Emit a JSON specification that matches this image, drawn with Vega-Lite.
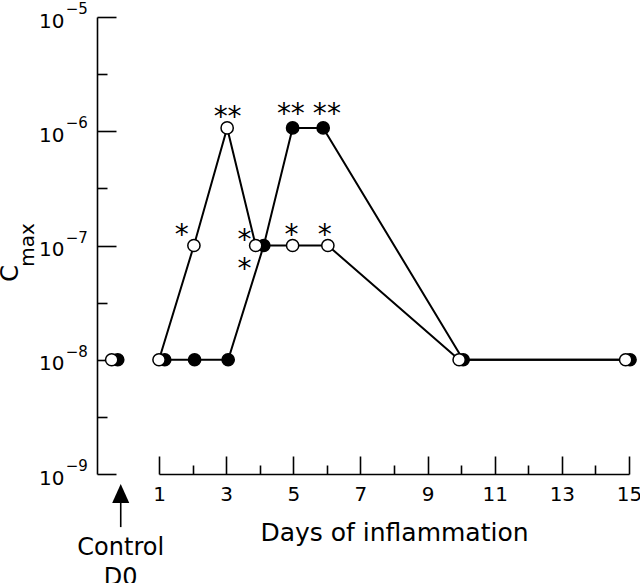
{
  "$schema": "https://vega.github.io/schema/vega-lite/v6.json",
  "width": 470,
  "height": 457,
  "autosize": {"type": "none"},
  "padding": {"left": 159, "top": 17, "right": 11, "bottom": 109},
  "config": {
    "view": {"stroke": null},
    "font": "DejaVu Sans",
    "axis": {
      "domainColor": "black", "tickColor": "black", "labelColor": "black", "titleColor": "black",
      "domainWidth": 1.6, "tickWidth": 1.6, "grid": false,
      "labelFont": "DejaVu Sans", "titleFont": "DejaVu Sans"
    }
  },
  "datasets": {
    "main": [
      {"group": "filled", "stage": "control", "day": -0.23, "cmax": 1e-8},
      {"group": "open", "stage": "control", "day": -0.41, "cmax": 1e-8},
      {"group": "filled", "stage": "inflamed", "day": 1.17, "cmax": 1e-8},
      {"group": "filled", "stage": "inflamed", "day": 2.06, "cmax": 1e-8},
      {"group": "filled", "stage": "inflamed", "day": 3.06, "cmax": 1e-8},
      {"group": "filled", "stage": "inflamed", "day": 4.12, "cmax": 1e-7},
      {"group": "filled", "stage": "inflamed", "day": 4.98, "cmax": 1.07e-6},
      {"group": "filled", "stage": "inflamed", "day": 5.89, "cmax": 1.07e-6},
      {"group": "filled", "stage": "inflamed", "day": 10.06, "cmax": 1e-8},
      {"group": "filled", "stage": "inflamed", "day": 15.03, "cmax": 1e-8},
      {"group": "open", "stage": "inflamed", "day": 1.0, "cmax": 1e-8},
      {"group": "open", "stage": "inflamed", "day": 2.04, "cmax": 1e-7},
      {"group": "open", "stage": "inflamed", "day": 3.03, "cmax": 1.07e-6},
      {"group": "open", "stage": "inflamed", "day": 3.88, "cmax": 1e-7},
      {"group": "open", "stage": "inflamed", "day": 4.98, "cmax": 1e-7},
      {"group": "open", "stage": "inflamed", "day": 6.03, "cmax": 1e-7},
      {"group": "open", "stage": "inflamed", "day": 9.94, "cmax": 1e-8},
      {"group": "open", "stage": "inflamed", "day": 14.9, "cmax": 1e-8}
    ],
    "stars": [
      {"day": 1.68, "cmax": 1.41e-7, "label": "*"},
      {"day": 2.84, "cmax": 1.53e-6, "label": "*"},
      {"day": 3.25, "cmax": 1.53e-6, "label": "*"},
      {"day": 3.55, "cmax": 1.29e-7, "label": "*"},
      {"day": 3.55, "cmax": 7.2e-8, "label": "*"},
      {"day": 4.72, "cmax": 1.63e-6, "label": "*"},
      {"day": 5.13, "cmax": 1.63e-6, "label": "*"},
      {"day": 5.79, "cmax": 1.63e-6, "label": "*"},
      {"day": 6.21, "cmax": 1.63e-6, "label": "*"},
      {"day": 4.95, "cmax": 1.41e-7, "label": "*"},
      {"day": 5.94, "cmax": 1.41e-7, "label": "*"}
    ],
    "exponents": [
      {"day": -1.78, "cmax": 1e-5, "label": "−5"},
      {"day": -1.78, "cmax": 1e-6, "label": "−6"},
      {"day": -1.78, "cmax": 1e-7, "label": "−7"},
      {"day": -1.78, "cmax": 1e-8, "label": "−8"},
      {"day": -1.78, "cmax": 1e-9, "label": "−9"}
    ],
    "notes": [
      {"day": -0.14, "cmax": 1.954e-10, "label": "Control"},
      {"day": -0.14, "cmax": 1.066e-10, "label": "D0"}
    ],
    "arrow": [
      {"day": -0.14, "cmax": 6.75e-10, "cmax_end": 3.43e-10}
    ],
    "ytitle": [
      {"day": -3.4, "cmax": 5.69e-8, "label": "C"}
    ],
    "ysub": [
      {"day": -2.9, "cmax": 1.01e-7, "label": "max"}
    ]
  },
  "encoding": {
    "x": {
      "field": "day", "type": "quantitative",
      "scale": {"domain": [1, 15], "nice": false, "zero": false},
      "axis": {
        "values": [1, 2, 3, 4, 5, 6, 7, 8, 9, 10, 11, 12, 13, 14, 15],
        "tickSize": {"condition": {"test": "datum.value % 2 == 1", "value": -18}, "value": -9},
        "labelExpr": "datum.value % 2 == 1 ? datum.label : ''",
        "labelPadding": 28, "labelFontSize": 20, "labelOverlap": false, "labelFlush": false,
        "title": "Days of inflammation", "titleFontSize": 25, "titleFontWeight": "normal", "titlePadding": 7
      }
    },
    "y": {
      "field": "cmax", "type": "quantitative",
      "scale": {"type": "log", "domain": [1e-9, 1e-5], "nice": false},
      "axis": {
        "offset": 62,
        "values": [1e-9, 3.16228e-9, 1e-8, 3.16228e-8, 1e-7, 3.16228e-7, 1e-6, 3.16228e-6, 1e-5],
        "tickSize": {"condition": {"test": "abs(log(datum.value)/LN10 - round(log(datum.value)/LN10)) < 0.01", "value": -19}, "value": -10},
        "labelExpr": "abs(log(datum.value)/LN10 - round(log(datum.value)/LN10)) < 0.01 ? '10' : ''",
        "labelPadding": 52, "labelFontSize": 20, "labelOverlap": false, "labelFlush": false, "labelOffset": 4,
        "title": null
      }
    }
  },
  "layer": [
    {
      "data": {"name": "main"},
      "transform": [{"filter": "datum.stage == 'inflamed'"}],
      "mark": {"type": "line", "color": "black", "strokeWidth": 2},
      "encoding": {"detail": {"field": "group"}, "order": {"field": "day"}}
    },
    {
      "data": {"name": "main"},
      "transform": [{"filter": "datum.group == 'filled'"}],
      "mark": {"type": "point", "filled": true, "fill": "black", "stroke": "black", "strokeWidth": 1.5, "size": 150, "opacity": 1}
    },
    {
      "data": {"name": "main"},
      "transform": [{"filter": "datum.group == 'open'"}],
      "mark": {"type": "point", "filled": true, "fill": "white", "stroke": "black", "strokeWidth": 1.5, "size": 150, "opacity": 1}
    },
    {
      "data": {"name": "stars"},
      "mark": {"type": "text", "fontSize": 28, "baseline": "alphabetic", "dy": 16, "color": "black"},
      "encoding": {"text": {"field": "label"}}
    },
    {
      "data": {"name": "exponents"},
      "mark": {"type": "text", "fontSize": 15, "baseline": "alphabetic", "align": "left", "dy": -3, "color": "black"},
      "encoding": {"text": {"field": "label"}}
    },
    {
      "data": {"name": "notes"},
      "mark": {"type": "text", "fontSize": 24, "baseline": "alphabetic", "color": "black"},
      "encoding": {"text": {"field": "label"}}
    },
    {
      "data": {"name": "arrow"},
      "mark": {"type": "rule", "color": "black", "strokeWidth": 1.6},
      "encoding": {"y2": {"field": "cmax_end"}}
    },
    {
      "data": {"name": "arrow"},
      "mark": {"type": "point", "shape": "M0,-1L0.9,1L-0.9,1Z", "size": 361, "filled": true, "fill": "black", "stroke": null, "opacity": 1}
    },
    {
      "data": {"name": "ytitle"},
      "mark": {"type": "text", "fontSize": 24, "angle": 270, "baseline": "middle", "align": "center", "color": "black"},
      "encoding": {"text": {"field": "label"}}
    },
    {
      "data": {"name": "ysub"},
      "mark": {"type": "text", "fontSize": 20, "angle": 270, "baseline": "middle", "align": "center", "color": "black"},
      "encoding": {"text": {"field": "label"}}
    }
  ]
}
